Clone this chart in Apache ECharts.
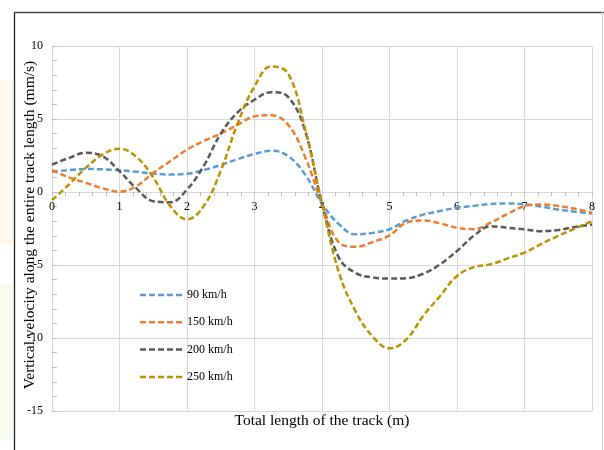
<!DOCTYPE html>
<html><head><meta charset="utf-8">
<script src="https://cdn.jsdelivr.net/npm/echarts@6/dist/echarts.min.js"></script>
<style>html,body{margin:0;padding:0;background:#fff}#c{width:604px;height:450px}</style>
</head><body><div id="c"></div>
<script>
const xs = [0,0.25,0.5,0.75,1,1.25,1.5,1.75,2,2.25,2.5,2.75,3,3.25,3.5,3.75,4,4.25,4.5,4.75,5,5.25,5.5,5.75,6,6.25,6.5,6.75,7,7.25,7.5,7.75,8];
const seriesNames = ['90 km/h','150 km/h','200 km/h','250 km/h'];
const v90  = [1.38,1.5,1.58,1.55,1.49,1.38,1.26,1.2,1.25,1.5,1.85,2.25,2.6,2.83,2.45,1.2,-0.8,-2.2,-2.9,-2.8,-2.55,-1.95,-1.55,-1.3,-1.08,-0.95,-0.82,-0.78,-0.85,-1.0,-1.2,-1.35,-1.47];
const v150 = [1.49,1.0,0.63,0.25,0.02,0.4,1.31,2.1,2.9,3.5,4.0,4.6,5.18,5.25,4.6,2.4,-0.8,-3.45,-3.75,-3.43,-2.97,-2.1,-1.95,-2.15,-2.45,-2.55,-2.1,-1.5,-0.97,-0.85,-0.95,-1.15,-1.42];
const v200 = [1.88,2.33,2.68,2.45,1.42,0.25,-0.63,-0.7,0.17,1.8,4.0,5.45,6.32,6.84,6.5,4.2,-0.8,-4.5,-5.55,-5.85,-5.93,-5.9,-5.6,-4.95,-4.04,-3.0,-2.35,-2.45,-2.56,-2.68,-2.6,-2.4,-2.22];
const v250 = [-0.56,0.51,1.65,2.56,2.97,2.4,1.0,-0.95,-1.88,-0.95,1.45,4.7,7.23,8.6,8.1,4.3,-0.8,-5.5,-8.2,-9.9,-10.71,-10.1,-8.48,-7.12,-5.75,-5.15,-4.95,-4.55,-4.15,-3.55,-3.0,-2.5,-1.99];
const allValues = [v90, v150, v200, v250];
const colors = ['#5B9BD5','#ED7D31','#595959','#BF9000'];
const xTitle = 'Total length of the track (m)';
const yTitle = 'Vertical velocity along the entire track length (mm/s)';

const font = '"Liberation Serif","Times New Roman",serif';
const dashIcon = 'path://M0,0h6v1h-6zM9,0h6v1h-6zM18,0h6v1h-6zM27,0h6v1h-6zM36,0h6v1h-6z';
const yMin = -15, yMax = 10, gridTop = 46, gridBottom = 39, H = 450;
const plotH = H - gridTop - gridBottom;
const zeroOffset = -plotH * (0 - yMin) / (yMax - yMin); // move x axis up to y = 0
const chart = echarts.init(document.getElementById('c'), null, {renderer:'canvas'});
chart.setOption({
  animation:false,
  backgroundColor:'#fff',
  grid:{left:52,right:12,top:gridTop,bottom:gridBottom,containLabel:false},
  legend:{
    orient:'vertical', left:135, top:284, itemWidth:42, itemHeight:2.5, itemGap:15.3,
    icon: dashIcon, symbolKeepAspect:false, itemGap:15.3,
    data:seriesNames,
    textStyle:{fontFamily:font,fontSize:12,color:'#000'}
  },
  xAxis:{
    type:'value', min:0, max:8, interval:1, position:'bottom', offset:zeroOffset,
    axisLine:{show:true,onZero:false,lineStyle:{color:'#d9d9d9',width:1}},
    axisTick:{show:true,length:4,lineStyle:{color:'#bfbfbf'}},
    minorTick:{show:true,splitNumber:5,length:4,lineStyle:{color:'#bfbfbf'}},
    axisLabel:{fontFamily:font,fontSize:12,color:'#000',margin:9},
    splitLine:{show:true,lineStyle:{color:'#d9d9d9',width:1}}
  },
  yAxis:{
    type:'value', min:yMin, max:yMax, interval:5,
    axisLine:{show:true,onZero:false,lineStyle:{color:'#d9d9d9'}},
    axisTick:{show:true,inside:true,length:5,lineStyle:{color:'#bfbfbf'}},
    minorTick:{show:true,splitNumber:5,length:5,lineStyle:{color:'#bfbfbf'}},
    axisLabel:{fontFamily:font,fontSize:12,color:'#000',margin:9},
    splitLine:{show:true,lineStyle:{color:'#d9d9d9',width:1}}
  },
  graphic:[
    {type:'rect',shape:{x:0,y:80,width:13,height:165},style:{fill:'#fff6ec'},silent:true},
    {type:'rect',shape:{x:0,y:285,width:13,height:155},style:{fill:'#f5fbef'},silent:true},
    {type:'line',shape:{x1:14.5,y1:12,x2:14.5,y2:450},style:{stroke:'#222',lineWidth:1.3}},
    {type:'line',shape:{x1:14,y1:12.5,x2:604,y2:12.5},style:{stroke:'#444',lineWidth:1.3}},
    {type:'line',shape:{x1:602.5,y1:12,x2:602.5,y2:450},style:{stroke:'#d0d0d0',lineWidth:1}},
    {type:'text',x:322,y:421,style:{text:xTitle,fontFamily:font,fontSize:15.5,fill:'#000',align:'center',verticalAlign:'middle'}},
    {type:'text',x:30,y:225,rotation:Math.PI/2,style:{text:yTitle,fontFamily:font,fontSize:15.5,fill:'#000',align:'center',verticalAlign:'middle'}}
  ],
  series: seriesNames.map((n,i)=>({
    name:n, type:'line', smooth:0.4, symbol:'none', showSymbol:false,
    data: xs.map((x,j)=>[x, allValues[i][j]]),
    lineStyle:{color:colors[i],width:2.5,type:[6,3]},
    itemStyle:{color:colors[i]}
  }))
});
</script></body></html>
